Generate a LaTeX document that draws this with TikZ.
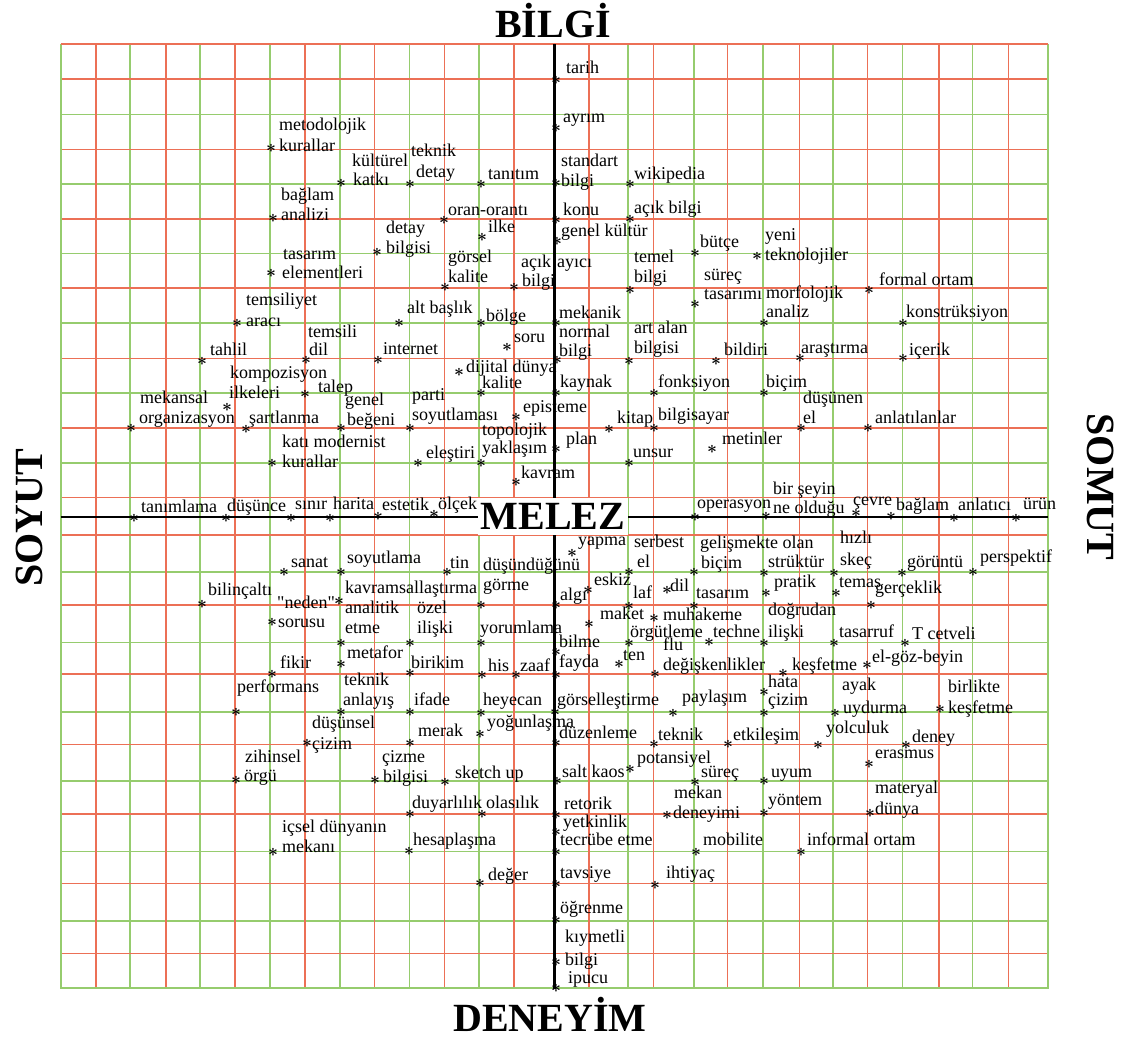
\documentclass[tikz,border=0pt]{standalone}
\usepackage{fontspec}
\setmainfont{Liberation Serif}[Ligatures=TeXOff]
\definecolor{gr}{RGB}{150,204,110}
\definecolor{rd}{RGB}{236,112,86}
\tikzset{
 ast/.style={inner sep=0pt, font=\fontsize{16}{16}\selectfont\boldmath},
 lbl/.style={anchor=base west, inner sep=0pt, font=\fontsize{18}{20}\selectfont},
 ttl/.style={font=\fontsize{40}{40}\selectfont\bfseries, inner sep=0pt},
 gline/.style={line width=1.6pt, gr},
 rline/.style={line width=1.6pt, rd},
 axisline/.style={line width=2.8pt, black},
}
\newcommand\lab[6]{\node[ast] (a#1) at (#2,#3) {$\ast$}; \node[lbl] (t#1) at (#4,#5) {#6};}
\newcommand\lin[4]{\node[lbl] (t#1) at (#2,#3) {#4};}
\begin{document}
\begin{tikzpicture}[x=1pt,y=-1pt]
\useasboundingbox (0,0) rectangle (1128,1041);
\fill[white] (0,0) rectangle (1128,1041);
% grid
\foreach \x in {130,200,270,340,409.3,479,628,694,763,833,902.3,972.3}
  \draw[gline] (\x,44.3) -- (\x,987.7);
\foreach \y in {114.3,183.7,253.3,322.7,392.7,462.7,571.7,642.3,711.7,781,851.3,920.7}
  \draw[gline] (60.7,\y) -- (1047.7,\y);
\foreach \x in {95.7,165.7,235,305,374.3,444.3,514,589,653.5,727.5,799.5,867.3,939,1008.3}
  \draw[rline] (\x,44.3) -- (\x,987.7);
\foreach \y in {79.3,149.3,218.7,288,358.5,427.7,497.3,535,605,674,744.3,814,883.3,953.3}
  \draw[rline] (60.7,\y) -- (1047.7,\y);
\draw[gline] (60.7,44.3) -- (60.7,987.7) -- (1047.7,987.7) -- (1047.7,44.3);
\draw[rline] (60.7,44.3) -- (1047.7,44.3);
% axes
\coordinate (vt) at (554.3,44.3);
\coordinate (vb) at (554.3,989);
\coordinate (hl) at (60.7,517);
\coordinate (hr) at (1047.7,517);
\draw[axisline] (vt) -- (vb);
\draw[axisline] (hl) -- (hr);
% titles
\node[ttl, fill=white, minimum width=150pt, minimum height=37pt] (melez) at (553,516) {MELEZ};
\node[ttl, anchor=base] (bilgi) at (553,38) {BİLGİ};
\node[ttl, anchor=base] (deneyim) at (550,1031) {DENEYİM};
\node[ttl, anchor=base, rotate=90] (soyut) at (42,518) {SOYUT};
\node[ttl, anchor=base, rotate=-90] (somut) at (1087,487) {SOMUT};
% ---- top, on axis
\lab{1}{556}{80}{566}{74}{tarih}
\lab{2}{556}{128}{563}{122}{ayrım}
\lab{3}{556}{183}{561}{166}{standart}\lin{3b}{561}{186}{bilgi}
\lab{4}{556}{220}{563}{215}{konu}
\lab{5}{557}{241}{561}{236}{genel kültür}
\lin{6}{557}{267}{ayıcı}
\lab{7}{556}{323}{559}{318}{mekanik}
\lab{8}{557}{360}{559}{337}{normal}\lin{8b}{559}{356}{bilgi}
\lab{9}{556}{393}{560}{387}{kaynak}
\lab{10}{556}{449}{566}{444}{plan}
% ---- top right
\lab{11}{630}{184}{634}{179}{wikipedia}
\lab{12}{630}{219}{634}{213}{açık bilgi}
\lab{13}{630}{290}{634}{262}{temel}\lin{13b}{634}{282}{bilgi}
\lab{14}{695}{253}{700}{247}{bütçe}
\lab{15}{757}{256}{765}{240}{yeni}\lin{15b}{765}{260}{teknolojiler}
\lab{16}{695}{304}{704}{280}{süreç}\lin{16b}{704}{299}{tasarımı}
\lab{17}{764}{323}{766}{298}{morfolojik}\lin{17b}{766}{317}{analiz}
\lab{18}{869}{290}{879}{285}{formal ortam}
\lab{19}{903}{323}{906}{317}{konstrüksiyon}
\lab{20}{903}{358}{909}{355}{içerik}
\lab{21}{800}{358}{801}{353}{araştırma}
\lab{22}{716}{361}{724}{355}{bildiri}
\lab{23}{629}{361}{634}{333}{art alan}\lin{23b}{634}{353}{bilgisi}
\lab{24}{654}{393}{658}{387}{fonksiyon}
\lab{25}{764}{393}{766}{387}{biçim}
\lab{26}{801}{428}{803}{403}{düşünen}\lin{26b}{803}{423}{el}
\lab{27}{868}{428}{875}{423}{anlatılanlar}
\lab{28}{609}{429}{617}{423}{kitap}
\lab{29}{654}{428}{658}{420}{bilgisayar}
\lab{30}{629}{463}{633}{457}{unsur}
\lab{31}{712}{449}{722}{444}{metinler}
% ---- horizontal axis
\lab{32}{766}{516}{773}{494}{bir şeyin}\lin{32b}{773}{513}{ne olduğu}
\lab{33}{695}{517}{697}{508}{operasyon}
\lab{34}{856}{513}{853}{505}{çevre}
\lab{35}{891}{516}{896}{510}{bağlam}
\lab{36}{954}{518}{958}{510}{anlatıcı}
\lab{37}{1016}{518}{1023}{509}{ürün}
\lab{38}{134}{518}{141}{512}{tanımlama}
\lab{39}{226}{518}{227}{511}{düşünce}
\lab{40}{291}{518}{295}{509}{sınır}
\lab{41}{330}{518}{333}{509}{harita}
\lab{42}{378}{516}{382}{510}{estetik}
\lab{43}{434}{514}{438}{509}{ölçek}
% ---- top left
\lab{44}{481}{323}{486}{321}{bölge}
\lab{45}{507}{347}{514}{342}{soru}
\lab{46}{399}{323}{407}{313}{alt başlık}
\lab{47}{445}{287}{448}{262}{görsel}\lin{47b}{448}{282}{kalite}
\lab{48}{514}{287}{521}{267}{açık}\lin{48b}{522}{286}{bilgi}
\lab{49}{377}{252}{386}{233}{detay}\lin{49b}{386}{253}{bilgisi}
\lab{50}{444}{220}{448}{215}{oran-orantı}
\lab{51}{482}{237}{488}{232}{ilke}
\lab{52}{481}{184}{488}{179}{tanıtım}
\lab{53}{410}{184}{411}{157}{teknik}\lin{53b}{416}{177}{detay}
\lab{54}{341}{183}{352}{166}{kültürel}\lin{54b}{353}{185}{katkı}
\lab{55}{271}{148}{279}{131}{metodolojik}\lin{55b}{279}{151}{kurallar}
\lab{56}{273}{218}{281}{200}{bağlam}\lin{56b}{281}{220}{analizi}
\lab{57}{271}{273}{283}{259}{tasarım}\lin{57b}{282}{278}{elementleri}
\lab{58}{237}{323}{246}{305}{temsiliyet}\lin{58b}{246}{326}{aracı}
\lab{59}{306}{360}{308}{337}{temsili}\lin{59b}{309}{355}{dil}
\lab{60}{202}{361}{210}{355}{tahlil}
\lab{61}{378}{360}{383}{354}{internet}
\lab{62}{459}{372}{466}{372}{dijital dünya}
\lab{63}{481}{393}{482}{388}{kalite}
\lab{64}{227}{407}{230}{378}{kompozisyon}\lin{64b}{229}{398}{ilkeleri}
\lab{65}{305}{394}{318}{392}{talep}
\lab{66}{131}{428}{140}{403}{mekansal}\lin{66b}{139}{423}{organizasyon}
\lab{67}{246}{429}{249}{423}{şartlanma}
\lab{68}{341}{428}{345}{405}{genel}\lin{68b}{347}{425}{beğeni}
\lab{69}{272}{463}{282}{447}{katı modernist}\lin{69b}{282}{467}{kurallar}
\lab{70}{410}{428}{412}{400}{parti}\lin{70b}{412}{420}{soyutlaması}
\lab{71}{516}{417}{523}{412}{episteme}
\lab{72}{481}{463}{482}{435}{topolojik}\lin{72b}{482}{453}{yaklaşım}
\lab{73}{418}{463}{426}{458}{eleştiri}
\lab{74}{516}{482}{521}{478}{kavram}
% ---- bottom left
\lab{75}{284}{572}{291}{567}{sanat}
\lab{76}{341}{572}{347}{563}{soyutlama}
\lab{77}{447}{572}{450}{568}{tin}
\lin{78}{483}{570}{düşündüğünü}
\lab{79}{572}{553}{578}{545}{yapma}
\lab{80}{481}{605}{483}{590}{görme}
\lab{81}{339}{601}{345}{593}{kavramsallaştırma}
\lab{82}{272}{622}{277}{608}{"neden"}\lin{82b}{278}{627}{sorusu}
\lab{83}{202}{604}{208}{595}{bilinçaltı}
\lab{84}{341}{643}{345}{613}{analitik}\lin{84b}{345}{633}{etme}
\lab{85}{410}{643}{417}{613}{özel}\lin{85b}{417}{633}{ilişki}
\lab{86}{481}{643}{480}{633}{yorumlama}
\lab{87}{341}{664}{347}{658}{metafor}
\lab{88}{341}{712}{344}{685}{teknik}\lin{88b}{343}{705}{anlayış}
\lab{89}{410}{673}{411}{668}{birikim}
\lab{90}{482}{675}{488}{671}{his}
\lab{91}{516}{675}{520}{671}{zaaf}
\lab{92}{272}{674}{280}{668}{fikir}
\lab{93}{236}{712}{237}{692}{performans}
\lab{94}{410}{712}{414}{705}{ifade}
\lab{95}{481}{713}{483}{705}{heyecan}
\lab{96}{480}{734}{487}{727}{yoğunlaşma}
\lab{97}{410}{743}{418}{736}{merak}
\lab{98}{307}{743}{312}{728}{düşünsel}\lin{98b}{312}{749}{çizim}
\lab{99}{236}{780}{245}{762}{zihinsel}\lin{99b}{244}{781}{örgü}
\lab{100}{375}{780}{382}{762}{çizme}\lin{100b}{383}{782}{bilgisi}
\lab{101}{445}{782}{455}{778}{sketch up}
\lab{102}{410}{814}{412}{808}{duyarlılık}
\lab{103}{482}{814}{486}{808}{olasılık}
\lab{104}{273}{852}{282}{832}{içsel dünyanın}\lin{104b}{282}{852}{mekanı}
\lab{105}{409}{851}{413}{845}{hesaplaşma}
\lab{106}{480}{883}{488}{880}{değer}
% ---- bottom, on axis
\lab{107}{556}{605}{560}{600}{algı}
\lab{108}{588}{590}{594}{585}{eskiz}
\lab{109}{556}{652}{559}{647}{bilme}
\lab{110}{556}{675}{559}{667}{fayda}
\lab{111}{589}{624}{600}{619}{maket}
\lab{112}{555}{712}{557}{705}{görselleştirme}
\lab{113}{556}{743}{559}{738}{düzenleme}
\lab{114}{557}{781}{562}{777}{salt kaos}
\lab{115}{556}{815}{564}{809}{retorik}
\lab{116}{556}{832}{563}{827}{yetkinlik}
\lab{117}{556}{852}{560}{845}{tecrübe etme}
\lab{118}{556}{884}{560}{878}{tavsiye}
\lab{119}{556}{920}{560}{913}{öğrenme}
\lab{120}{556}{962}{565}{942}{kıymetli}\lin{120b}{565}{965}{bilgi}
\lab{121}{556}{988}{568}{983}{ipucu}
% ---- bottom right
\lab{122}{629}{572}{634}{547}{serbest}\lin{122b}{637}{567}{el}
\lab{123}{694}{572}{700}{548}{gelişmekte olan}\lin{123b}{701}{568}{biçim}
\lab{124}{764}{573}{768}{567}{strüktür}
\lab{125}{834}{573}{840}{543}{hızlı}\lin{125b}{840}{565}{skeç}
\lab{126}{629}{606}{633}{598}{laf}
\lab{127}{667}{590}{670}{591}{dil}
\lab{128}{694}{606}{696}{598}{tasarım}
\lab{129}{766}{593}{774}{587}{pratik}
\lab{130}{836}{593}{839}{587}{temas}
\lab{131}{902}{573}{907}{567}{görüntü}
\lab{132}{973}{572}{980}{562}{perspektif}
\lab{133}{871}{605}{875}{593}{gerçeklik}
\lab{134}{654}{618}{663}{620}{muhakeme}
\lab{135}{629}{643}{630}{637}{örgütleme}
\lab{136}{709}{642}{713}{637}{techne}
\lab{137}{764}{643}{768}{615}{doğrudan}\lin{137b}{768}{637}{ilişki}
\lab{138}{834}{643}{839}{637}{tasarruf}
\lab{139}{905}{643}{912}{639}{T cetveli}
\lab{140}{867}{665}{872}{662}{el-göz-beyin}
\lab{141}{655}{674}{663}{650}{flu}\lin{141b}{663}{670}{değişkenlikler}
\lab{142}{619}{664}{623}{660}{ten}
\lab{143}{783}{673}{792}{670}{keşfetme}
\lab{144}{764}{692}{768}{687}{hata}
\lab{145}{764}{713}{768}{705}{çizim}
\lab{146}{673}{713}{682}{702}{paylaşım}
\lab{147}{835}{713}{842}{690}{ayak}\lin{147b}{843}{713}{uydurma}
\lab{148}{940}{709}{948}{692}{birlikte}\lin{148b}{948}{713}{keşfetme}
\lab{149}{818}{745}{826}{733}{yolculuk}
\lab{150}{906}{745}{912}{742}{deney}
\lab{151}{869}{764}{875}{758}{erasmus}
\lab{152}{870}{813}{875}{793}{materyal}\lin{152b}{875}{814}{dünya}
\lab{153}{801}{852}{807}{845}{informal ortam}
\lab{154}{696}{852}{703}{845}{mobilite}
\lab{155}{655}{885}{666}{878}{ihtiyaç}
\lab{156}{667}{815}{674}{798}{mekan}\lin{156b}{673}{818}{deneyimi}
\lab{157}{764}{813}{768}{805}{yöntem}
\lab{158}{764}{781}{771}{777}{uyum}
\lab{159}{695}{782}{701}{777}{süreç}
\lab{160}{630}{769}{637}{763}{potansiyel}
\lab{161}{654}{744}{658}{740}{teknik}
\lab{162}{728}{744}{733}{740}{etkileşim}
\end{tikzpicture}
\end{document}
